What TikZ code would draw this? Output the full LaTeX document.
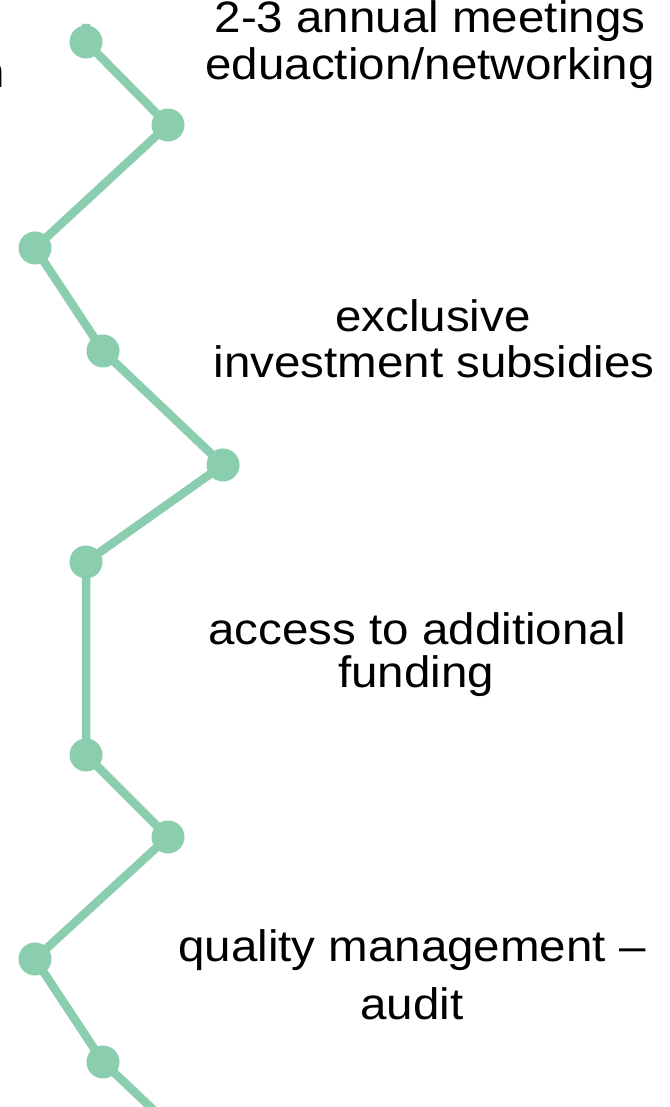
\documentclass[tikz,border=0pt]{standalone}
\usepackage{fontspec}
\setmainfont[FakeStretch=1.08]{Liberation Sans}
\definecolor{mint}{RGB}{139,205,175}
\begin{document}
\begin{tikzpicture}[x=1pt,y=1pt,
  dot/.style={circle,fill=mint,inner sep=0pt,minimum size=33pt},
  link/.style={draw=mint,line width=8.5pt},
  lbl/.style={font=\fontsize{44}{44}\selectfont,anchor=base,inner sep=0pt,text=black}]
\clip (0,0) rectangle (669,1107);
\fill[white] (0,0) rectangle (669,1107);
% vertices (y measured from the bottom)
\coordinate (top) at (86,1083);
\coordinate (p1) at (86,1065);
\coordinate (p2) at (168,982);
\coordinate (p3) at (35,859);
\coordinate (p4) at (103,756);
\coordinate (p5) at (223,642);
\coordinate (p6) at (86,545);
\coordinate (p7) at (86,352);
\coordinate (p8) at (168,270);
\coordinate (p9) at (35,148);
\coordinate (p10) at (103,45);
\coordinate (p11) at (223,-69);
\draw[link] (top) -- (p1) -- (p2) -- (p3) -- (p4) -- (p5) -- (p6) -- (p7) -- (p8) -- (p9) -- (p10) -- (p11);
\foreach \p in {p1,p2,p3,p4,p5,p6,p7,p8,p9,p10}
  \node[dot] (d\p) at (\p) {};
% clipped letter at left edge
\node[lbl,anchor=base east] (frag) at (5.5,1019) {n};
% labels
\node[lbl] (t1a) at (430,1074) {2-3 annual meetings};
\node[lbl] (t1b) at (430,1027) {eduaction/networking};
\node[lbl] (t2a) at (433,775) {exclusive};
\node[lbl] (t2b) at (434,729) {investment subsidies};
\node[lbl] (t3a) at (417,462) {access to additional};
\node[lbl] (t3b) at (416,419) {funding};
\node[lbl] (t4a) at (412,145) {quality management –};
\node[lbl] (t4b) at (412,87) {audit};
\end{tikzpicture}
\end{document}
